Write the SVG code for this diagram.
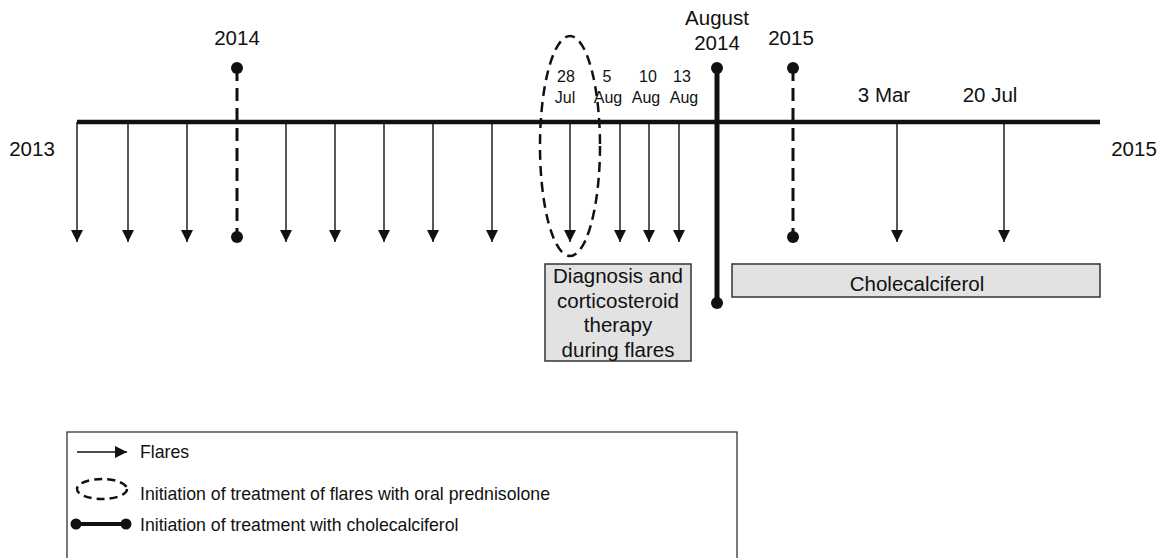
<svg xmlns="http://www.w3.org/2000/svg" width="1164" height="558" viewBox="0 0 1164 558">
<style>
text{font-family:"Liberation Sans",Arial,sans-serif;fill:#111}
.yr{font-size:20.5px;text-anchor:middle}
.dt{font-size:16px;text-anchor:middle}
.bx{font-size:20.5px;text-anchor:middle}
.lg{font-size:17.7px}
.flare{stroke:#111;stroke-width:1.4;fill:none}
.dash{stroke:#111;stroke-width:3;stroke-dasharray:13 7;fill:none}
.box{fill:#e2e2e2;stroke:#333;stroke-width:1.5}
</style>
<defs>
<marker id="ah" viewBox="0 0 12 12" refX="12" refY="6" markerWidth="12" markerHeight="12" markerUnits="userSpaceOnUse" orient="auto">
<path d="M0,0 L12,6 L0,12 Z" fill="#111"/>
</marker>
</defs>
<rect width="1164" height="558" fill="#fff"/>

<g id="connectors">
<line x1="77" y1="122" x2="1100" y2="122" stroke="#111" stroke-width="4.5"/>
<g class="flare" marker-end="url(#ah)">
<line x1="77" y1="122" x2="77" y2="242"/>
<line x1="128" y1="122" x2="128" y2="242"/>
<line x1="187" y1="122" x2="187" y2="242"/>
<line x1="286" y1="122" x2="286" y2="242"/>
<line x1="335" y1="122" x2="335" y2="242"/>
<line x1="384" y1="122" x2="384" y2="242"/>
<line x1="433" y1="122" x2="433" y2="242"/>
<line x1="492" y1="122" x2="492" y2="242"/>
<line x1="570" y1="122" x2="570" y2="242"/>
<line x1="620" y1="122" x2="620" y2="242"/>
<line x1="649" y1="122" x2="649" y2="242"/>
<line x1="679" y1="122" x2="679" y2="242"/>
<line x1="897" y1="122" x2="897" y2="242"/>
<line x1="1004" y1="122" x2="1004" y2="242"/>
</g>
<line class="dash" x1="237" y1="68" x2="237" y2="237"/>
<circle cx="237" cy="68" r="6" fill="#111"/>
<circle cx="237" cy="237" r="6" fill="#111"/>
<line class="dash" x1="793" y1="68" x2="793" y2="237"/>
<circle cx="793" cy="68" r="6" fill="#111"/>
<circle cx="793" cy="237" r="6" fill="#111"/>
<line x1="717" y1="68" x2="717" y2="303" stroke="#111" stroke-width="5"/>
<circle cx="717" cy="68" r="6" fill="#111"/>
<circle cx="717" cy="303" r="6" fill="#111"/>
<ellipse cx="570" cy="146" rx="30" ry="110" fill="none" stroke="#111" stroke-width="2.5" stroke-dasharray="10 6"/>
</g>

<g id="labels">
<text class="yr" x="32" y="156">2013</text>
<text class="yr" x="1134" y="156">2015</text>
<text class="yr" x="237" y="45">2014</text>
<text class="yr" x="791" y="45">2015</text>
<text class="yr" x="717" y="25">August</text>
<text class="yr" x="717" y="50">2014</text>
<text class="yr" x="884" y="102">3 Mar</text>
<text class="yr" x="990" y="102">20 Jul</text>
<text class="dt" x="566" y="82">28</text>
<text class="dt" x="565" y="103">Jul</text>
<text class="dt" x="607" y="82">5</text>
<text class="dt" x="608" y="103">Aug</text>
<text class="dt" x="648" y="82">10</text>
<text class="dt" x="646" y="103">Aug</text>
<text class="dt" x="682" y="82">13</text>
<text class="dt" x="684" y="103">Aug</text>
</g>

<g id="diagnosis">
<rect class="box" x="545" y="264" width="146" height="97"/>
<text class="bx" x="618" y="283">Diagnosis and</text>
<text class="bx" x="618" y="308">corticosteroid</text>
<text class="bx" x="618" y="332">therapy</text>
<text class="bx" x="618" y="357">during flares</text>
</g>

<g id="cholecalciferol">
<rect class="box" x="732" y="264" width="368" height="33"/>
<text class="bx" x="917" y="291">Cholecalciferol</text>
</g>

<g id="legend">
<rect x="67" y="432" width="670" height="140" fill="none" stroke="#333" stroke-width="1.3"/>
<line x1="77" y1="452" x2="127" y2="452" stroke="#111" stroke-width="1.4" marker-end="url(#ah)"/>
<text class="lg" x="140" y="458">Flares</text>
<ellipse cx="102" cy="489" rx="25" ry="10" fill="none" stroke="#111" stroke-width="2.5" stroke-dasharray="8 5"/>
<text class="lg" x="140" y="500">Initiation of treatment of flares with oral prednisolone</text>
<line x1="76" y1="524" x2="126" y2="524" stroke="#111" stroke-width="4"/>
<circle cx="76" cy="524" r="5.5" fill="#111"/>
<circle cx="126" cy="524" r="5.5" fill="#111"/>
<text class="lg" x="140" y="531">Initiation of treatment with cholecalciferol</text>
</g>
</svg>
